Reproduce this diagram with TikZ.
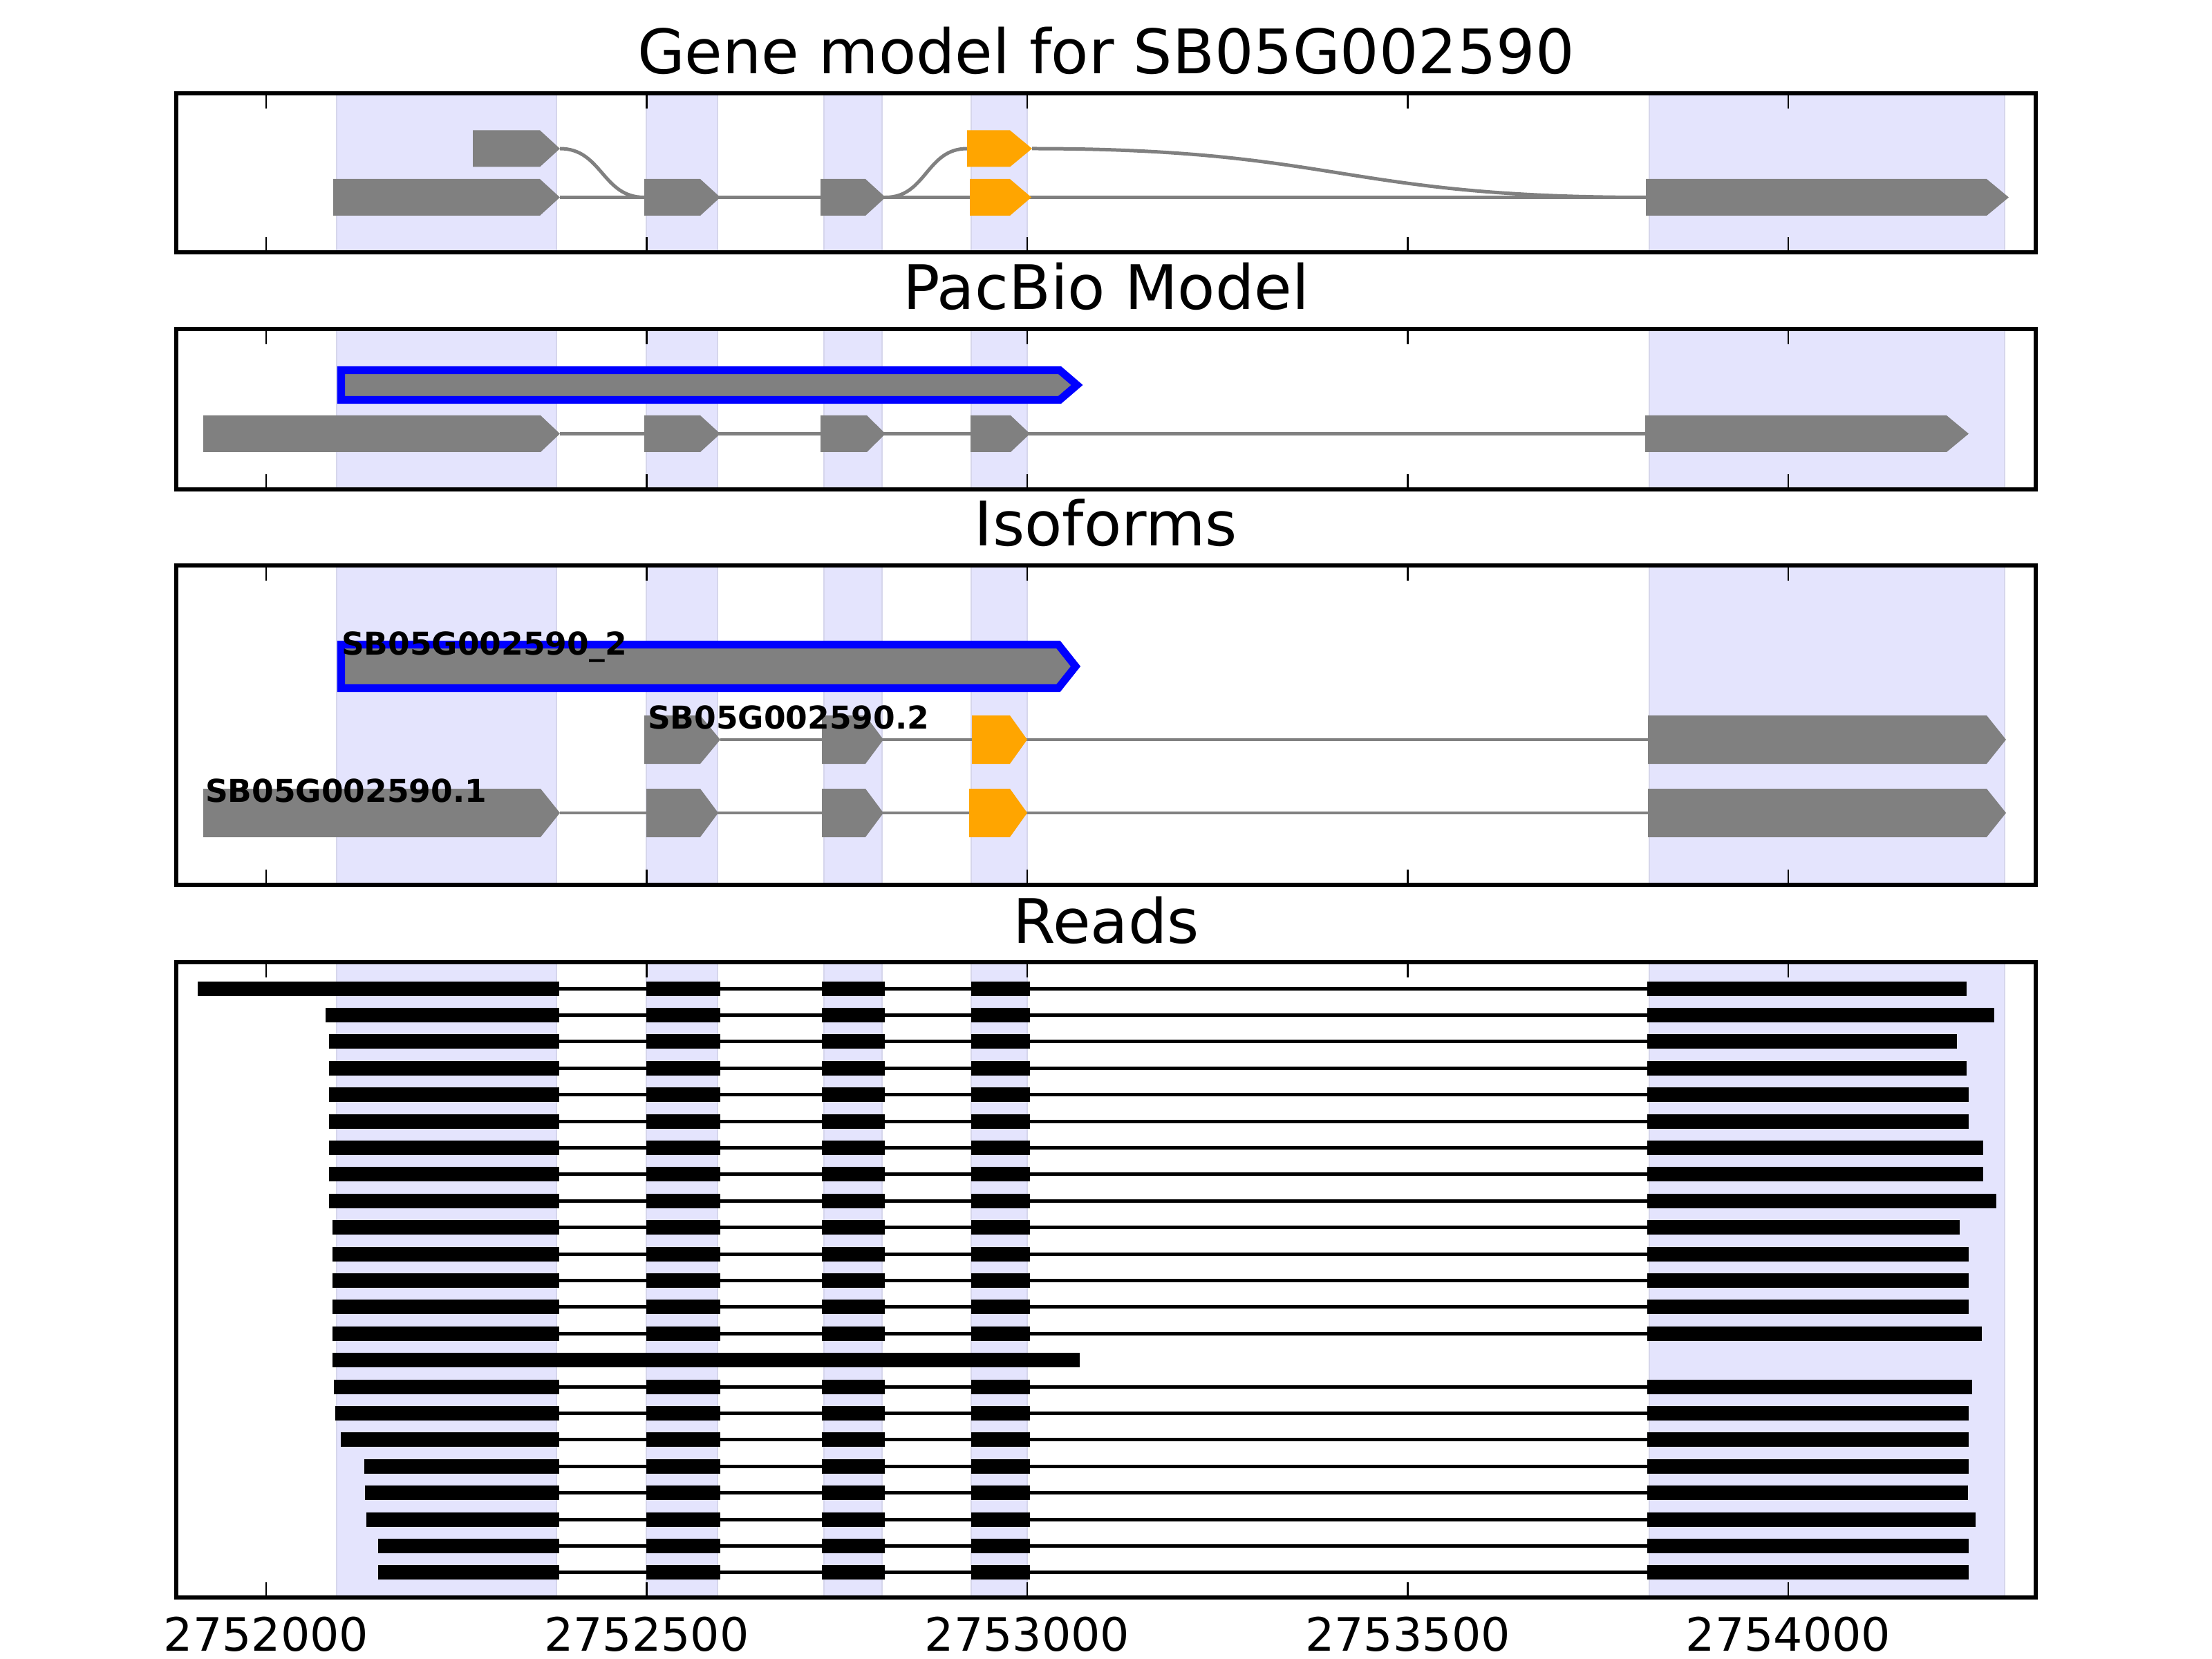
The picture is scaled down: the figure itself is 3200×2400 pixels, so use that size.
\documentclass[tikz,border=0pt]{standalone}
\usepackage{fontspec}
\setmainfont{DejaVu Sans}
\definecolor{exgray}{HTML}{808080}
\definecolor{exorange}{HTML}{FFA500}
\definecolor{spanfill}{HTML}{E4E4FD}
\definecolor{spanedge}{HTML}{D6D6EC}
\newcommand{\exon}[6][exgray]{\fill[#1] (#2,#5-#6) -- (#3,#5-#6) -- (#4,#5) -- (#3,#5+#6) -- (#2,#5+#6) -- cycle;}

\begin{document}
\begin{tikzpicture}[x=0.0025in, y=-0.0025in,
  frame/.style={draw, line width=1bp},
  tick/.style={line width=0.5bp},
  span/.style={fill=spanfill, draw=spanedge, line width=0.5bp},
  intron/.style={draw=exgray, line width=0.9bp},
  iso/.style={fill=exgray, draw=blue, line width=2bp, line join=miter},
  rd/.style={line width=0.9bp},
  ttl/.style={font=\fontsize{16bp}{19bp}\selectfont, anchor=base, inner sep=0pt},
  ticklab/.style={font=\fontsize{12bp}{14bp}\selectfont, anchor=base, inner sep=0pt},
  lab/.style={font=\fontsize{8.2bp}{10bp}\selectfont\bfseries, anchor=base west, inner sep=0pt}]

\useasboundingbox (0,0) rectangle (3200,2400);

\foreach \t/\b in {135/365, 476/708, 818/1280, 1392/2311}
  \foreach \l/\r in {487/805, 935/1038, 1192/1276, 1405/1486, 2386/2900}
    \filldraw[span] (\l,\t) rectangle (\r,\b);

% gene model
\draw[intron] (810,285.5) -- (2381,285.5);
\draw[intron] (810,215) .. controls (871,215) and (871,285.5) .. (932,285.5);
\draw[intron] (1281,285.5) .. controls (1340,285.5) and (1340,215) .. (1399,215);
\draw[intron] (1493,215) .. controls (1937,215) and (1937,285.5) .. (2381,285.5);
\exon{684}{781}{810}{215}{26.5}
\exon[exorange]{1399}{1461}{1493}{215}{26.5}
\exon{482}{781}{810}{285.5}{26.5}
\exon{932}{1013}{1042}{285.5}{26.5}
\exon{1187}{1252}{1281}{285.5}{26.5}
\exon[exorange]{1403}{1461}{1492}{285.5}{26.5}
\exon{2381}{2874}{2906}{285.5}{26.5}

% pacbio
\draw[iso] (493.5,535.5) -- (1533,535.5) -- (1558,557) -- (1533,578.5) -- (493.5,578.5) -- cycle;
\draw[intron] (810,627.5) -- (2380,627.5);
\exon{294}{782}{810}{627.5}{26.5}
\exon{932}{1013}{1042}{627.5}{26.5}
\exon{1187}{1254}{1281}{627.5}{26.5}
\exon{1404}{1462}{1490}{627.5}{26.5}
\exon{2380}{2816}{2848}{627.5}{26.5}

% isoforms
\draw[iso] (493.5,932.5) -- (1531,932.5) -- (1556,964) -- (1531,995.5) -- (493.5,995.5) -- cycle;
\draw[intron] (1042,1070) -- (2384,1070);
\exon{932}{1013}{1042}{1070}{35}
\exon{1189}{1252}{1278}{1070}{35}
\exon[exorange]{1406}{1461}{1486}{1070}{35}
\exon{2384}{2874}{2902}{1070}{35}
\draw[intron] (810,1176) -- (2384,1176);
\exon{294}{782}{810}{1176}{35}
\exon{935}{1013}{1039}{1176}{35}
\exon{1189}{1252}{1278}{1176}{35}
\exon[exorange]{1402}{1461}{1486}{1176}{35}
\exon{2384}{2874}{2902}{1176}{35}
\node[lab] (iso2) at (493,947) {SB05G002590\_2};
\node[lab] (iso1b) at (936,1055) {SB05G002590.2};
\node[lab] (iso1a) at (296,1160) {SB05G002590.1};

% reads
\foreach \i/\s/\e in {0/286/2845, 1/471/2885, 2/476/2831, 3/476/2845, 4/476/2848, 5/476/2848,
  6/476/2869, 7/476/2869, 8/476/2888, 9/481/2835, 10/481/2848, 11/481/2848, 12/481/2848,
  13/481/2867, 15/483/2853, 16/485/2848, 17/493/2848, 18/527/2848, 19/528/2847,
  20/530/2858, 21/547/2848, 22/547/2848}{
  \pgfmathsetmacro{\y}{1430+38.4*\i}
  \draw[rd] (809,\y) -- (2383,\y);
  \fill (\s,\y-10.5) rectangle (809,\y+10.5);
  \foreach \l/\r in {935/1042, 1189/1280, 1405/1490}
    \fill (\l,\y-10.5) rectangle (\r,\y+10.5);
  \fill (2383,\y-10.5) rectangle (\e,\y+10.5);
}
\fill (481,1957.1) rectangle (1562,1978.1);

\foreach \t/\b in {135/365, 476/708, 818/1280, 1392/2311}{
  \draw[frame] (255,\t) rectangle (2945,\b);
  \foreach \x in {385,935.5,1486,2036.5,2587}{
    \draw[tick] (\x,\t) -- (\x,\t+22);
    \draw[tick] (\x,\b) -- (\x,\b-22);
  }
}

\node[ttl] (t1) at (1600,107) {Gene model for SB05G002590};
\node[ttl] (t2) at (1600,448) {PacBio Model};
\node[ttl] (t3) at (1600,790) {Isoforms};
\node[ttl] (t4) at (1600,1364) {Reads};

\node[ticklab] (x1) at (385,2388) {2752000};
\node[ticklab] (x2) at (935.5,2388) {2752500};
\node[ticklab] (x3) at (1486,2388) {2753000};
\node[ticklab] (x4) at (2036.5,2388) {2753500};
\node[ticklab] (x5) at (2587,2388) {2754000};
\end{tikzpicture}
\end{document}
